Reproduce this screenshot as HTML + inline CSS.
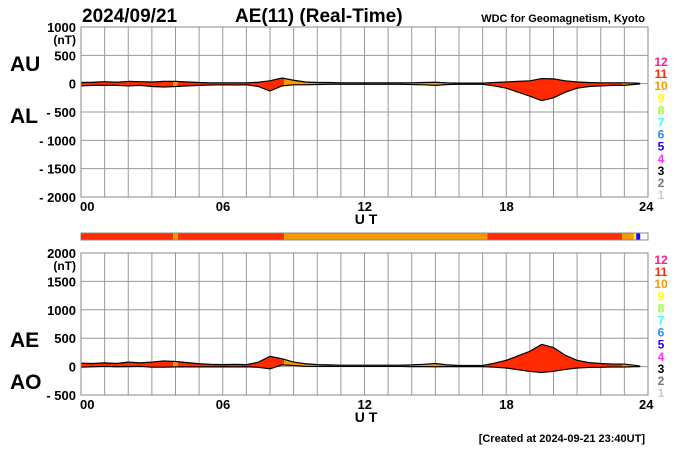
<!DOCTYPE html>
<html><head><meta charset="utf-8"><style>
body{margin:0;background:#fff}
svg text{font-family:"Liberation Sans",sans-serif}
</style></head><body>
<svg id="c" width="700" height="450" viewBox="0 0 700 450" xmlns="http://www.w3.org/2000/svg">
<text x="82" y="22" font-size="19" font-weight="bold">2024/09/21</text>
<text x="235" y="22" font-size="19" font-weight="bold">AE(11) (Real-Time)</text>
<text x="645" y="22" font-size="11" font-weight="bold" text-anchor="end">WDC for Geomagnetism, Kyoto</text>
<text x="10" y="71" font-size="21" font-weight="bold">AU</text>
<text x="10" y="123" font-size="21" font-weight="bold">AL</text>
<text x="10" y="347" font-size="21" font-weight="bold">AE</text>
<text x="10" y="389" font-size="21" font-weight="bold">AO</text>
<text x="645" y="442" font-size="11" font-weight="bold" text-anchor="end">[Created at 2024-09-21 23:40UT]</text>
<g id="g"></g>
</svg>
<script>
const hours=[0,0.5,1,1.5,2,2.5,3,3.5,4,4.5,5,5.5,6,6.5,7,7.5,8,8.5,9,9.5,10,10.5,11,11.5,12,12.5,13,13.5,14,14.5,15,15.5,16,16.5,17,17.5,18,18.5,19,19.5,20,20.5,21,21.5,22,22.5,23,23.5,23.67];
const au=[20,25,35,25,40,35,30,40,40,30,20,15,15,15,15,25,50,100,60,30,20,20,15,15,15,15,15,15,15,20,25,15,10,10,10,20,30,40,50,90,85,50,30,20,15,15,15,10,5];
const al=[-40,-30,-30,-30,-40,-30,-50,-60,-50,-40,-30,-25,-20,-25,-20,-50,-130,-40,-20,-20,-15,-10,-10,-10,-10,-10,-10,-10,-15,-20,-30,-15,-10,-10,-10,-40,-80,-150,-220,-300,-250,-150,-80,-50,-40,-30,-30,-10,-5];
const segStart=[0,3.9,4.1,8.6,17.2,22.9,23.4,23.5];
const segEnd=[3.9,4.1,8.6,17.2,22.9,23.4,23.5,23.67];
const segCount=[11,10,11,10,11,10,9,5];
const topTicks=[1000,500,0,-500,-1000,-1500,-2000];
const botTicks=[2000,1500,1000,500,0,-500];
const xTicks=[0,6,12,18,24];
const xTickLabels=["00","06","12","18","24"];
const legendNums=[12,11,10,9,8,7,6,5,4,3,2,1];
const colors={12:"#ff1a8c",11:"#ff2a00",10:"#f59a00",9:"#ffff00",8:"#99ff33",7:"#33ffee",6:"#2a8cff",5:"#2200ff",4:"#ff33ff",3:"#000",2:"#777",1:"#ccc"};
const NS="http://www.w3.org/2000/svg";
const g=document.getElementById('g');
const X0=81,X1=648;
const xs=h=>X0+(X1-X0)*h/24;
function el(t,a,p){const e=document.createElementNS(NS,t);for(const k in a)e.setAttribute(k,a[k]);(p||g).appendChild(e);return e;}
function panel(id,top,bot,vmax,vmin,ticks,upper,lower,legTop){
  const ys=v=>top+(bot-top)*(vmax-v)/(vmax-vmin);
  const pg=el('g',{});
  
  
  for(let h=0;h<=24;h++){const l=el('line',{x1:xs(h),x2:xs(h),y1:top,y2:bot,stroke:'#999','stroke-width':1},pg);
    }
  ticks.forEach((v,i)=>{const l=el('line',{x1:X0,x2:X1,y1:ys(v),y2:ys(v),stroke:'#999','stroke-width':1},pg);
    
    const t=el('text',{x:X0-5,y:ys(v)+5,'font-size':13,'font-weight':'bold','text-anchor':'end'},pg);
    t.textContent=v<0?'- '+(-v):String(v);
    
    if(i==0){const u=el('text',{x:X0-5,y:ys(v)+17,'font-size':12,'font-weight':'bold','text-anchor':'end'},pg);u.textContent='(nT)';
      }
  });
  const up=hours.map((h,i)=>xs(h)+','+ys(upper[i])).join(' ');
  const lo=hours.map((h,i)=>xs(h)+','+ys(lower[i])).reverse().join(' ');
  segStart.forEach((s,i)=>{
    const cp=el('clipPath',{id:id+'cp'+i},pg);
    el('rect',{x:xs(s),y:top,width:xs(segEnd[i])-xs(s),height:bot-top},cp);
    const p=el('polygon',{points:up+' '+lo,fill:colors[segCount[i]],'clip-path':'url(#'+id+'cp'+i+')'},pg);
    
  });
  [upper,lower].forEach((arr,k)=>{const pl=el('polyline',{points:hours.map((h,i)=>xs(h)+','+ys(arr[i])).join(' '),fill:'none',stroke:'#000','stroke-width':1.2},pg);
    });
  const fr=el('rect',{x:X0,y:top,width:X1-X0,height:bot-top,fill:'none',stroke:'#888'},pg);
  
  xTicks.forEach((h,i)=>{const t=el('text',{x:xs(h)+(i==0?-1:(i==4?-9:-7)),y:bot+14,'font-size':13,'font-weight':'bold'},pg);t.textContent=xTickLabels[i];
    });
  const ut=el('text',{x:366,y:bot+27,'font-size':14,'font-weight':'bold','text-anchor':'middle'},pg);ut.textContent='U T';
  
  legendNums.forEach((n,i)=>{const t=el('text',{x:661,y:legTop+i*12.1,'font-size':12,'font-weight':'bold','text-anchor':'middle',fill:colors[n]},pg);t.textContent=n;
    });
}
panel('au-al',27,197,1000,-2000,topTicks,au,al,66);
const ae=au.map((v,i)=>v-al[i]);
const ao=au.map((v,i)=>(v+al[i])/2);
panel('ae-ao',253,395,2000,-500,botTicks,ae,ao,264);
const bb=el('rect',{x:X0,y:233,width:X1-X0,height:7,fill:'#fff',stroke:'#888'});

segStart.forEach((s,i)=>{const r=el('rect',{x:xs(s),y:233.5,width:xs(segEnd[i])-xs(s),height:6,fill:colors[segCount[i]]});
  });
</script>
</body></html>
